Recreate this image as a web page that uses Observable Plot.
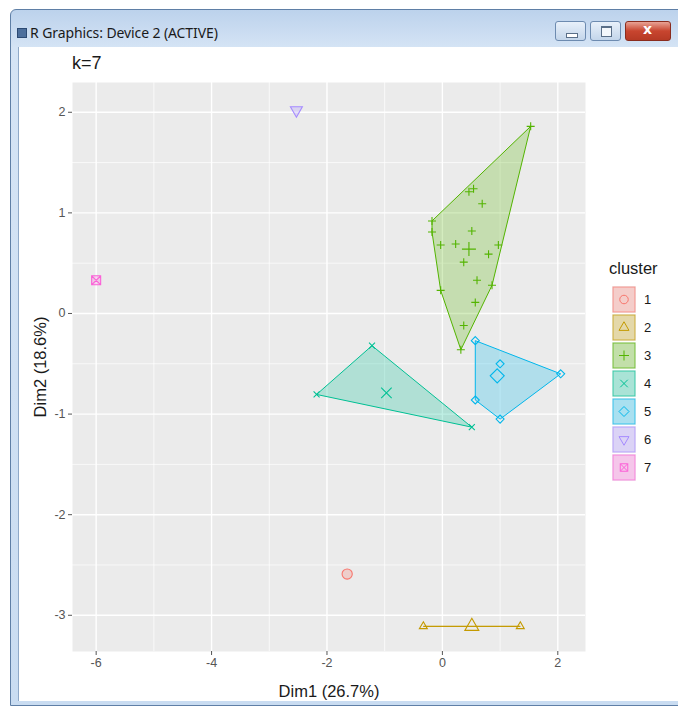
<!DOCTYPE html>
<html><head><meta charset="utf-8">
<script src="https://cdn.jsdelivr.net/npm/d3@7"></script>
<script src="https://cdn.jsdelivr.net/npm/@observablehq/plot@0.6"></script>
<style>
body{margin:0;width:678px;height:707px;overflow:hidden;background:#fff;font-family:"Liberation Sans",Arial,sans-serif;position:relative;}
#win{position:absolute;left:10px;top:9px;width:690px;height:697px;background:linear-gradient(#bcd2ec,#d5e4f5 38px,#c9dcf1);border:1px solid #5f7fa6;border-radius:6px 0 0 0;box-sizing:border-box;}
#content{position:absolute;left:18px;top:47px;width:670px;height:654px;background:#fff;border-left:1px solid #8fa9c8;}
#wtitle{position:absolute;left:30px;top:23px;font-family:"Noto Sans","DejaVu Sans",sans-serif;font-size:14px;color:#1a1a1a;letter-spacing:-0.1px;}
#wicon{position:absolute;left:17px;top:28px;width:8px;height:8px;background:#4d6f9c;border:1px solid #2c4a73;}
.btn{position:absolute;top:21px;height:20px;border:1px solid #6d8bb0;border-radius:3px;background:linear-gradient(#e8f0fa,#c3d5ea);box-sizing:border-box;}
#bmin{left:555px;width:31px;}
#bmax{left:590px;width:31px;}
#bclose{left:625px;width:46px;background:linear-gradient(#e8a395,#c8452f 50%,#b63a25);border-color:#8a2c1e;}
#bmin::after{content:"";position:absolute;left:10px;top:11px;width:10px;height:3px;background:#fff;border:1px solid #5a6f88;}
#bmax::after{content:"";position:absolute;left:10px;top:4px;width:9px;height:8px;border:1px solid #5a6f88;border-top-width:2px;background:#f4f8fc;}
#bclose::after{content:"x";position:absolute;left:17px;top:-1px;color:#fff;font:bold 14px "DejaVu Sans",sans-serif;}
#ktitle{position:absolute;left:72px;top:53px;font-size:18px;color:#1a1a1a;}
#chart{position:absolute;left:18px;top:47px;}
#legend{position:absolute;left:600px;top:255px;}
</style>
</head><body>
<div id="win"></div>
<div id="wicon"></div>
<div id="wtitle">R Graphics: Device 2 (ACTIVE)</div>
<div class="btn" id="bmin"></div><div class="btn" id="bmax"></div><div class="btn" id="bclose"></div>
<div id="content"></div>
<div id="ktitle">k=7</div>
<div id="chart"></div>
<div id="legend"></div>
<script>
// ---- data ----
const clusters = ["1","2","3","4","5","6","7"];
const colors = ["#F8766D","#C49A00","#53B400","#00C094","#00B6EB","#A58AFF","#FB61D7"];
const dim1 = [-1.65, -0.33, 1.35,
  1.53, 0.46, 0.54, 0.69, -0.18, -0.18, 0.51, -0.03, 0.23, 0.97, 0.80, 0.37, 0.60, -0.03, 0.86, 0.57, 0.37, 0.32,
  -2.18, -1.22, 0.51,
  0.57, 0.57, 1.00, 2.05, 1.00,
  -2.53, -6.00];
const dim2 = [-2.59, -3.11, -3.11,
  1.86, 1.21, 1.24, 1.09, 0.92, 0.81, 0.82, 0.68, 0.69, 0.68, 0.59, 0.51, 0.33, 0.23, 0.28, 0.11, -0.12, -0.36,
  -0.805, -0.32, -1.13,
  -0.27, -0.86, -1.05, -0.60, -0.50,
  2.02, 0.33];
const member = ["1","2","2",
  "3","3","3","3","3","3","3","3","3","3","3","3","3","3","3","3","3","3",
  "4","4","4",
  "5","5","5","5","5",
  "6","7"];
const centerX = [-1.65, 0.51, 0.46, -0.97, 0.95, -2.53, -6.00];
const centerY = [-2.59, -3.11, 0.64, -0.79, -0.62, 2.02, 0.33];
const xTicks = [-6, -4, -2, 0, 2];
const yTicks = [-3, -2, -1, 0, 1, 2];
const xMinor = [-5, -3, -1, 1];
const yMinor = [-2.5, -1.5, -0.5, 0.5, 1.5];
const xLabel = "Dim1 (26.7%)";
const yLabel = "Dim2 (18.6%)";
const legendTitle = "cluster";

// ---- symbols (ggplot shapes 1..7) ----
const R = s => Math.sqrt(s / Math.PI);
const symbols = [
  {draw(c, s){const r = R(s)*0.85; c.moveTo(r,0); c.arc(0,0,r,0,2*Math.PI);}},
  {draw(c, s){const r = R(s)*1.15; c.moveTo(0,-r); c.lineTo(r*0.866,r*0.5); c.lineTo(-r*0.866,r*0.5); c.closePath();}},
  {draw(c, s){const r = R(s); c.moveTo(-r,0); c.lineTo(r,0); c.moveTo(0,-r); c.lineTo(0,r);}},
  {draw(c, s){const r = R(s)*0.75; c.moveTo(-r,-r); c.lineTo(r,r); c.moveTo(-r,r); c.lineTo(r,-r);}},
  {draw(c, s){const r = R(s); c.moveTo(0,-r); c.lineTo(r,0); c.lineTo(0,r); c.lineTo(-r,0); c.closePath();}},
  {draw(c, s){const r = R(s)*1.15; c.moveTo(0,r); c.lineTo(r*0.866,-r*0.5); c.lineTo(-r*0.866,-r*0.5); c.closePath();}},
  {draw(c, s){const r = R(s)*0.75; c.rect(-r,-r,2*r,2*r); c.moveTo(-r,-r); c.lineTo(r,r); c.moveTo(-r,r); c.lineTo(r,-r);}}
];

const points = dim1.map((x, i) => ({x, y: dim2[i], cluster: member[i]}));
const centers = clusters.map((c, i) => ({x: centerX[i], y: centerY[i], cluster: c}));

const marks = [
  Plot.frame({fill: "#ebebeb", stroke: "none"}),
  Plot.gridX(xMinor, {stroke: "white", strokeOpacity: 1, strokeWidth: 0.7}),
  Plot.gridY(yMinor, {stroke: "white", strokeOpacity: 1, strokeWidth: 0.7}),
  Plot.gridX(xTicks, {stroke: "white", strokeOpacity: 1, strokeWidth: 1.4}),
  Plot.gridY(yTicks, {stroke: "white", strokeOpacity: 1, strokeWidth: 1.4})
];
clusters.forEach((c, i) => {
  const pts = points.filter(d => d.cluster === c);
  if (pts.length > 1) {
    marks.push(Plot.hull(pts, {x: "x", y: "y", fill: colors[i], fillOpacity: 0.25, stroke: colors[i], strokeWidth: 1}));
  }
});
clusters.forEach((c, i) => {
  const pts = points.filter(d => d.cluster === c);
  // singleton clusters: the point coincides with its centre, draw it once
  if (pts.length > 1) {
    marks.push(Plot.dot(pts, {x: "x", y: "y", symbol: symbols[i], r: 4, fill: "none", stroke: colors[i], strokeWidth: 1.1}));
  }
  const big = pts.length > 1 ? 7 : 6;
  marks.push(Plot.dot(centers.filter(d => d.cluster === c), {x: "x", y: "y", symbol: symbols[i], r: big, fill: colors[i], fillOpacity: pts.length > 1 ? 0 : 0.25, stroke: colors[i], strokeWidth: 1.1}));
});
marks.push(
  Plot.axisX(xTicks, {tickSize: 4, tickPadding: 3, fontSize: 12.5, color: "#555", tickFormat: d => String(d), label: null}),
  Plot.axisY(yTicks, {tickSize: 4, tickPadding: 3, fontSize: 12.5, color: "#555", tickFormat: d => String(d), label: null}),
  Plot.text([xLabel], {text: d => d, frameAnchor: "bottom", dy: 40, lineAnchor: "middle", fontSize: 16.5, fill: "#1a1a1a"}),
  Plot.text([yLabel], {text: d => d, frameAnchor: "left", dx: -32, rotate: -90, lineAnchor: "middle", textAnchor: "middle", fontSize: 16.5, fill: "#1a1a1a"})
);

const chart = Plot.plot({
  width: 582, height: 654,
  marginLeft: 54, marginRight: 15, marginTop: 35, marginBottom: 50,
  style: {background: "transparent", fontFamily: "Liberation Sans, Arial, sans-serif", overflow: "visible"},
  x: {domain: [-6.41, 2.48]},
  y: {domain: [-3.36, 2.296]},
  marks
});
document.getElementById("chart").appendChild(chart);

// ---- legend ----
const lg = d3.select("#legend").append("svg").attr("width", 78).attr("height", 230)
  .style("font-family", "Liberation Sans, Arial, sans-serif");
lg.append("text").attr("x", 9).attr("y", 19).attr("font-size", 16.5).attr("fill", "#1a1a1a").text(legendTitle);
clusters.forEach((c, i) => {
  const y0 = 31 + i * 28;
  const g = lg.append("g").attr("transform", `translate(12,${y0})`);
  g.append("rect").attr("width", 24).attr("height", 27).attr("fill", "#f2f2f2");
  g.append("rect").attr("x", 1).attr("y", 1).attr("width", 22).attr("height", 25)
    .attr("fill", colors[i]).attr("fill-opacity", 0.3).attr("stroke", colors[i]).attr("stroke-opacity", 0.7);
  g.append("path").attr("transform", "translate(12,13.5)")
    .attr("d", d3.symbol().type(symbols[i]).size(5*5*Math.PI)())
    .attr("fill", "none").attr("stroke", colors[i]).attr("stroke-width", 1);
  lg.append("text").attr("x", 44).attr("y", y0 + 13.5).attr("dy", "0.35em").attr("font-size", 13).attr("fill", "#1a1a1a").text(c);
});
</script>
</body></html>
